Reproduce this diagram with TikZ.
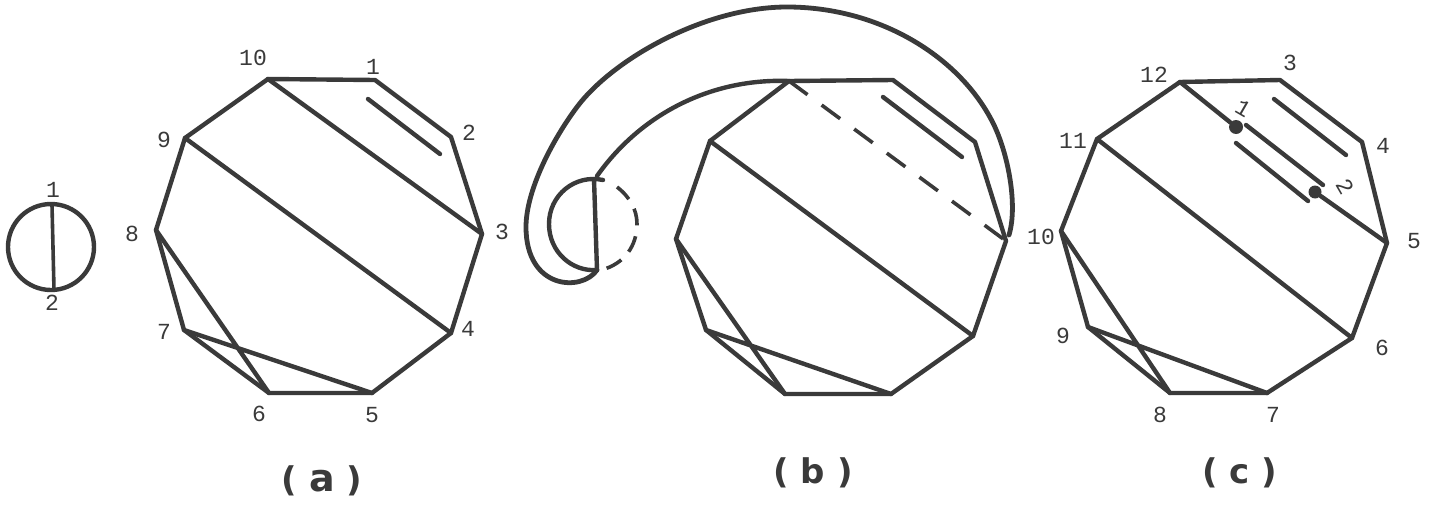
\documentclass[tikz,border=0pt]{standalone}
\usepackage{fontspec}
\setmainfont{Liberation Mono}
\newfontfamily\capfont{DejaVu Sans}
\definecolor{ink}{HTML}{3A3A3A}
\tikzset{
  edge/.style={draw=ink,line width=4.4pt,line cap=round,line join=round},
  num/.style={text=ink,inner sep=0pt,font=\fontsize{23}{23}\selectfont},
  capt/.style={text=ink,inner sep=0pt,font=\capfont\bfseries\fontsize{34}{34}\selectfont},
  dashedge/.style={draw=ink,line width=3.6pt,dash pattern=on 23pt off 17.5pt},
}
\begin{document}
\begin{tikzpicture}[x=1pt,y=-1pt]
\useasboundingbox (0,0) rectangle (1432,514);
% left circle
\coordinate (ct) at (52,205);
\coordinate (cb) at (54,290);
\node[draw=ink,line width=4.4pt,circle,minimum size=86pt,inner sep=0pt] (circ) at (51,247) {};
\draw[edge,line width=3.6pt] (ct) -- (cb);
\node[num] (c1) at (53,190) {1};
\node[num] (c2) at (52,303) {2};
% (a)
\coordinate (a10) at (268,79);
\coordinate (a1) at (375,80);
\coordinate (a2) at (451,137);
\coordinate (a3) at (482,234);
\coordinate (a4) at (451,333);
\coordinate (a5) at (372,393);
\coordinate (a6) at (269,393);
\coordinate (a7) at (184,330);
\coordinate (a8) at (156,230);
\coordinate (a9) at (185,138);
\coordinate (ax1) at (368,99);
\coordinate (ax2) at (440,154);
\draw[edge] (a10)--(a1)--(a2)--(a3)--(a4)--(a5)--(a6)--(a7)--(a8)--(a9)--cycle;
\draw[edge] (a10)--(a3) (a9)--(a4) (a8)--(a6) (a7)--(a5) (ax1)--(ax2);
\node[num] (la10) at (253,58) {10};
\node[num] (la1) at (373,67) {1};
\node[num] (la2) at (469,133) {2};
\node[num] (la3) at (502,232) {3};
\node[num] (la4) at (468,329) {4};
\node[num] (la5) at (372,415) {5};
\node[num] (la6) at (259,414) {6};
\node[num] (la7) at (164,332) {7};
\node[num] (la8) at (132,234) {8};
\node[num] (la9) at (164,140) {9};
\node[capt] (capa) at (322,481) {( {\fontsize{38}{38}\selectfont a} )};
% (b)
\coordinate (b10) at (789,81);
\coordinate (b1) at (893,80);
\coordinate (b2) at (975,142);
\coordinate (b3) at (1006,241);
\coordinate (b4) at (973,336);
\coordinate (b5) at (891,394);
\coordinate (b6) at (785,394);
\coordinate (b7) at (706,330);
\coordinate (b8) at (676,239);
\coordinate (b9) at (710,141);
\coordinate (bx1) at (883,97);
\coordinate (bx2) at (962,157);
\coordinate (st) at (594,179);
\coordinate (sb) at (597,270);
\coordinate (bandin) at (597,176);
\coordinate (bandout) at (1009,235);
\draw[edge] (b10)--(b1)--(b2)--(b3)--(b4)--(b5)--(b6)--(b7)--(b8)--(b9)--cycle;
\draw[edge] (b9)--(b4) (b8)--(b6) (b7)--(b5) (bx1)--(bx2);
\draw[dashedge] (b10) -- (b3);
\draw[edge] (st) -- (sb);
\draw[edge] (603,180) .. controls (575,174) and (549,195) .. (549,224) .. controls (549,252) and (572,272) .. (sb);
\draw[dashedge,dash pattern=on 17pt off 11pt] (617,187) .. controls (630,197) and (637,210) .. (637,224) .. controls (637,245) and (625,264) .. (601,270);
\draw[edge] (bandin) .. controls (640,115) and (710,78) .. (b10);
\draw[edge,line width=4.8pt] (sb) .. controls (582,292) and (526,290) .. (526,227)
  .. controls (526,190) and (553,139) .. (577,107)
  .. controls (613,59) and (705,7) .. (787,7)
  .. controls (880,7) and (960,57) .. (993,123)
  .. controls (1008,153) and (1018,205) .. (bandout);
\node[capt] (capb) at (813,473) {( b )};
% (c)
\coordinate (c12) at (1180,82);
\coordinate (c3) at (1280,80);
\coordinate (c4) at (1362,142);
\coordinate (c5) at (1387,243);
\coordinate (c6) at (1352,338);
\coordinate (c7) at (1267,393);
\coordinate (c8) at (1170,393);
\coordinate (c9) at (1088,327);
\coordinate (c10) at (1061,231);
\coordinate (c11) at (1097,139);
\node[circle,fill=ink,inner sep=0pt,minimum size=14pt] (d1) at (1236,127) {};
\node[circle,fill=ink,inner sep=0pt,minimum size=13pt] (d2) at (1315,192) {};
\coordinate (cx1) at (1246,125);
\coordinate (cx2) at (1323,185);
\coordinate (cy1) at (1236,143);
\coordinate (cy2) at (1308,201);
\coordinate (cz1) at (1274,99);
\coordinate (cz2) at (1346,155);
\draw[edge] (c12)--(c3)--(c4)--(c5)--(c6)--(c7)--(c8)--(c9)--(c10)--(c11)--cycle;
\draw[edge] (c11)--(c6) (c10)--(c8) (c9)--(c7) (c12)--(d1) (d2)--(c5) (cx1)--(cx2) (cy1)--(cy2) (cz1)--(cz2);
\node[num] (lc12) at (1154,75) {12};
\node[num] (lc3) at (1290,63) {3};
\node[num,rotate=-30] (lcd1) at (1243,108) {1};
\node[num] (lc4) at (1383,146) {4};
\node[num,rotate=-60] (lcd2) at (1345,187) {2};
\node[num] (lc5) at (1414,241) {5};
\node[num] (lc6) at (1382,348) {6};
\node[num] (lc7) at (1273,415) {7};
\node[num] (lc8) at (1160,415) {8};
\node[num] (lc9) at (1063,336) {9};
\node[num] (lc10) at (1041,237) {10};
\node[num] (lc11) at (1073,141) {11};
\node[capt] (capc) at (1240,473) {( c )};
\end{tikzpicture}
\end{document}
